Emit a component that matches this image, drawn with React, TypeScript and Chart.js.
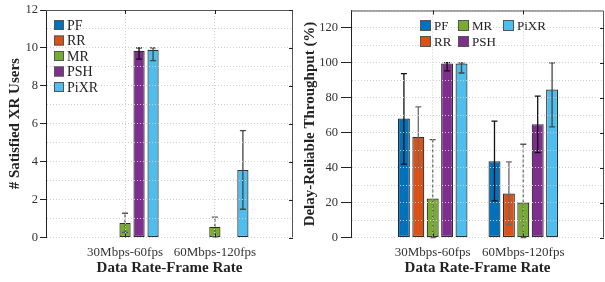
import React, { useEffect, useRef } from 'react';
import { Chart, registerables } from 'chart.js';
Chart.register(...registerables);

// ---------- data ----------
const categories = ['30Mbps-60fps', '60Mbps-120fps'];
const seriesNames = ['PF', 'RR', 'MR', 'PSH', 'PiXR'];
const seriesColors = ['#0072BD', '#D95319', '#77AC30', '#7E2F8E', '#4DBEEE'];
const errColors = ['#111111', '#6a6a6a', '#555555', '#111111', '#444444'];
const errDashes = [[], [], [3, 2], [], []];

// Left chart: # Satisfied XR Users
const usersPF = [0, 0];
const usersRR = [0, 0];
const usersMR = [0.77, 0.57];
const usersPSH = [9.85, 0];
const usersPiXR = [9.9, 3.56];
const usersLowPF = [null, null];
const usersHighPF = [null, null];
const usersLowRR = [null, null];
const usersHighRR = [null, null];
const usersLowMR = [0.27, 0.04];
const usersHighMR = [1.28, 1.07];
const usersLowPSH = [9.41, null];
const usersHighPSH = [10.0, null];
const usersLowPiXR = [9.33, 1.49];
const usersHighPiXR = [10.0, 5.64];
const usersTicks = [0, 2, 4, 6, 8, 10, 12];

// Right chart: Delay-Reliable Throughput (%)
const thrPF = [68.1, 43.7];
const thrRR = [57.6, 25.2];
const thrMR = [22.3, 20.0];
const thrPSH = [99.6, 64.9];
const thrPiXR = [99.6, 84.7];
const thrLowPF = [42, 21];
const thrHighPF = [93.9, 66.7];
const thrLowRR = [40, 7.4];
const thrHighRR = [74.8, 43.3];
const thrLowMR = [0, 0];
const thrHighMR = [56.1, 53.4];
const thrLowPSH = [95.4, 48.6];
const thrHighPSH = [100.2, 81];
const thrLowPiXR = [94.2, 63.3];
const thrHighPiXR = [100, 100];
const thrTicks = [0, 20, 40, 60, 80, 100, 120];

const SERIF = '"Liberation Serif", "Times New Roman", serif';

// ---------- plugins ----------
const errorBarPlugin = {
  id: 'errorBars',
  afterDatasetsDraw(chart: any) {
    const { ctx } = chart;
    const ys = chart.scales.y;
    chart.data.datasets.forEach((ds: any, di: number) => {
      const meta = chart.getDatasetMeta(di);
      if (!ds.errLow) return;
      meta.data.forEach((bar: any, i: number) => {
        const lo = ds.errLow[i];
        const hi = ds.errHigh[i];
        if (lo == null || hi == null) return;
        const x = bar.x;
        const yl = ys.getPixelForValue(lo);
        const yh = ys.getPixelForValue(hi);
        ctx.save();
        ctx.strokeStyle = ds.errColor;
        ctx.lineWidth = 1.3;
        ctx.setLineDash(ds.errDash || []);
        ctx.beginPath();
        ctx.moveTo(x, yl);
        ctx.lineTo(x, yh);
        ctx.stroke();
        ctx.setLineDash([]);
        ctx.beginPath();
        ctx.moveTo(x - 3, yl);
        ctx.lineTo(x + 3, yl);
        ctx.moveTo(x - 3, yh);
        ctx.lineTo(x + 3, yh);
        ctx.stroke();
        ctx.restore();
      });
    });
  },
};

const framePlugin = {
  id: 'frame',
  afterDraw(chart: any, _args: any, opts: any) {
    const { ctx, chartArea: a, scales } = chart;
    ctx.save();
    ctx.strokeStyle = '#555';
    ctx.lineWidth = 1;
    ctx.beginPath();
    ctx.moveTo(a.left, a.top + 0.5);
    ctx.lineTo(a.right - 0.5, a.top + 0.5);
    ctx.lineTo(a.right - 0.5, a.bottom);
    ctx.stroke();
    ctx.strokeStyle = '#222';
    ctx.beginPath();
    scales.x.ticks.forEach((t: any) => {
      const px = Math.round(scales.x.getPixelForValue(t.value)) + 0.5;
      ctx.moveTo(px, a.top);
      ctx.lineTo(px, a.top + 4);
      ctx.moveTo(px, a.bottom);
      ctx.lineTo(px, a.bottom - 4);
    });
    (opts.yMajor || []).forEach((v: number) => {
      const py = Math.round(scales.y.getPixelForValue(v)) + 0.5;
      ctx.moveTo(a.right, py);
      ctx.lineTo(a.right - 4, py);
    });
    ctx.stroke();
    ctx.restore();
  },
};

const legendPlugin = {
  id: 'customLegend',
  afterDraw(chart: any, _args: any, opts: any) {
    const { ctx, chartArea: a } = chart;
    const rows = opts.rows;
    ctx.save();
    ctx.font = `${opts.fontSize}px ${SERIF}`;
    ctx.textBaseline = 'middle';
    ctx.textAlign = 'left';
    chart.data.datasets.forEach((ds: any, i: number) => {
      const col = Math.floor(i / rows);
      const row = i % rows;
      const bx = a.left + opts.x + opts.colOffsets[col];
      const cy = a.top + opts.y + row * opts.rowH;
      const s = opts.box;
      ctx.fillStyle = ds.backgroundColor;
      ctx.fillRect(bx, cy - s / 2, s, s);
      ctx.strokeStyle = '#555';
      ctx.lineWidth = 1;
      ctx.strokeRect(bx + 0.5, cy - s / 2 + 0.5, s - 1, s - 1);
      ctx.fillStyle = '#222';
      ctx.fillText(ds.label, bx + s + 3, cy + 1);
    });
    ctx.restore();
  },
};

// ---------- chart builder ----------
function makeConfig(p: any) {
  const datasets = p.values.map((vals: number[], si: number) => ({
    label: seriesNames[si],
    data: vals.map((v, i) => ({ x: i, y: v })),
    backgroundColor: seriesColors[si],
    borderColor: '#2e2e2e',
    borderWidth: 1.2,
    borderSkipped: false,
    categoryPercentage: p.catPct,
    barPercentage: p.barPct,
    errLow: p.lows[si],
    errHigh: p.highs[si],
    errColor: errColors[si],
    errDash: errDashes[si],
  }));
  return {
    type: 'bar',
    data: { datasets },
    plugins: [errorBarPlugin, framePlugin, legendPlugin],
    options: {
      responsive: false,
      animation: false,
      layout: { padding: { top: 10, right: p.padRight, left: 0, bottom: 0 } },
      plugins: {
        legend: { display: false },
        tooltip: { enabled: false },
        frame: { yMajor: p.yTicks },
        customLegend: p.legend,
      },
      scales: {
        x: {
          type: 'linear',
          min: p.xMin,
          max: p.xMax,
          offset: false,
          afterBuildTicks: (s: any) => {
            s.ticks = categories.map((_, i) => ({ value: i }));
          },
          afterFit: (s: any) => {
            s.height = 44.5;
          },
          ticks: {
            autoSkip: false,
            maxRotation: 0,
            padding: 7,
            color: '#333',
            font: { family: SERIF, size: 13 },
            callback: (v: any) => categories[Math.round(v)],
          },
          grid: { z: 1, color: '#cfcfcf', drawTicks: false, offset: false },
          border: { display: false, dash: [1, 2] },
          title: {
            display: true,
            text: 'Data Rate-Frame Rate',
            color: '#222',
            font: { family: SERIF, size: 15, weight: 'bold' },
            padding: { top: 0, bottom: 5 },
          },
        },
        y: {
          min: 0,
          max: p.yMax,
          afterBuildTicks: (s: any) => {
            const t = [];
            for (let v = 0; v <= p.yMax + 1e-9; v += p.minorStep) t.push({ value: v });
            s.ticks = t;
          },
          afterFit: (s: any) => {
            s.width = p.yWidth;
          },
          ticks: {
            autoSkip: false,
            padding: p.yTickPad,
            color: '#333',
            font: { family: SERIF, size: 12.5 },
            callback: (v: any) => (p.yTicks.includes(v) ? String(v) : ''),
          },
          grid: {
            z: 1,
            color: '#cfcfcf',
            tickLength: p.yTickLen,
            tickColor: (c: any) => (c.tick && p.yTicks.includes(c.tick.value) ? '#222' : 'rgba(0,0,0,0)'),
          },
          border: { display: true, color: '#222', width: 1, dash: [1, 2], z: 2 },
          title: {
            display: true,
            text: p.yTitle,
            color: '#222',
            font: { family: SERIF, size: 15, weight: 'bold' },
            padding: { top: p.yTitlePad, bottom: 0 },
          },
        },
      },
    },
  };
}

function BarChart(props: { params: any; width: number; height: number }) {
  const ref = useRef<HTMLCanvasElement | null>(null);
  useEffect(() => {
    if (!ref.current) return;
    const chart = new Chart(ref.current, makeConfig(props.params) as any);
    return () => chart.destroy();
  }, []);
  return <canvas ref={ref} width={props.width} height={props.height} style={{ display: 'block' }} />;
}

const leftParams = {
  values: [usersPF, usersRR, usersMR, usersPSH, usersPiXR],
  lows: [usersLowPF, usersLowRR, usersLowMR, usersLowPSH, usersLowPiXR],
  highs: [usersHighPF, usersHighRR, usersHighMR, usersHighPSH, usersHighPiXR],
  yMax: 12,
  minorStep: 1,
  yTicks: usersTicks,
  yTitle: '# Satisfied XR Users',
  yWidth: 46,
  yTickLen: 6,
  yTickPad: 2,
  yTitlePad: 6,
  padRight: 7,
  xMin: -0.88,
  xMax: 1.87,
  catPct: 0.78,
  barPct: 0.8,
  legend: { rows: 5, x: 8, y: 15, rowH: 15.5, box: 10, fontSize: 14, colOffsets: [0] },
};

const rightParams = {
  values: [thrPF, thrRR, thrMR, thrPSH, thrPiXR],
  lows: [thrLowPF, thrLowRR, thrLowMR, thrLowPSH, thrLowPiXR],
  highs: [thrHighPF, thrHighRR, thrHighMR, thrHighPSH, thrHighPiXR],
  yMax: 130,
  minorStep: 10,
  yTicks: thrTicks,
  yTitle: 'Delay-Reliable Throughput (%)',
  yWidth: 51,
  yTickLen: 10,
  yTickPad: 3,
  yTitlePad: 1,
  padRight: 1,
  xMin: -0.902,
  xMax: 1.891,
  catPct: 0.795,
  barPct: 0.83,
  legend: { rows: 2, x: 69, y: 15, rowH: 16, box: 11, fontSize: 13, colOffsets: [0, 38, 83] },
};

export default function App() {
  return (
    <div style={{ position: 'absolute', left: 0, top: 0, width: 605, height: 282, background: '#fff', display: 'flex' }}>
      <BarChart params={leftParams} width={300} height={282} />
      <BarChart params={rightParams} width={305} height={282} />
    </div>
  );
}
